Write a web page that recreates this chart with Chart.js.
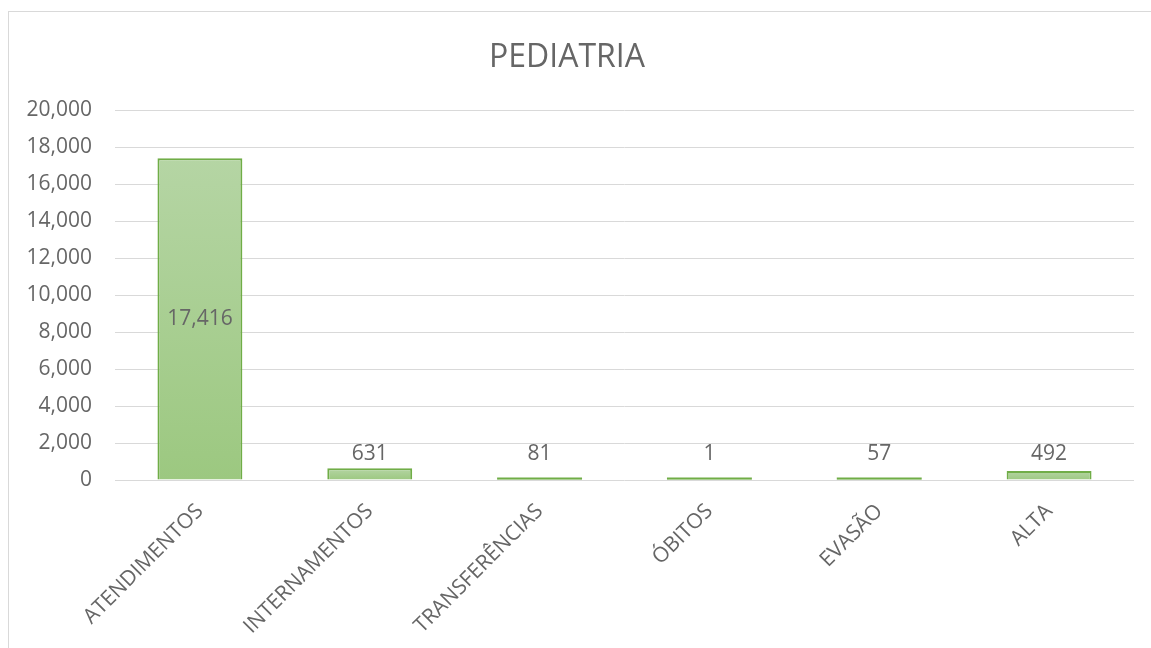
<!DOCTYPE html>
<html lang="pt">
  <head>
    <meta charset="UTF-8" />
    <title>Pediatria - Chart.js</title>
    <script src="https://cdn.jsdelivr.net/npm/chart.js"></script>
    <style>
      html, body {
        margin: 0;
        padding: 0;
        background: #fff;
        overflow: hidden;
        width: 1151px;
        height: 648px;
      }
      .frame {
        position: absolute;
        left: 8px;
        top: 11px;
        width: 1200px;
        height: 700px;
        border-left: 1px solid #d9d9d9;
        border-top: 1px solid #d9d9d9;
      }
      #pedChart {
        position: absolute;
        left: 0;
        top: 0;
      }
    </style>
  </head>
  <body>
    <div class="frame"></div>
    <canvas id="pedChart" width="1172" height="648"></canvas>
    <script>
      // dati
      const categorie = ['ATENDIMENTOS', 'INTERNAMENTOS', 'TRANSFERÊNCIAS', 'ÓBITOS', 'EVASÃO', 'ALTA'];
      const valori = [17416, 631, 81, 1, 57, 492];
      const titolo = 'PEDIATRIA';

      const grigio = '#666666';
      const fontBase = "'Open Sans', 'Noto Sans', sans-serif";

      // gradiente per ogni barra, chiaro in alto
      function fillBarra(ctx) {
        const chart = ctx.chart;
        if (!chart.chartArea || ctx.type !== 'data') return '#a9d18e';
        const y = chart.scales.y;
        const top = y.getPixelForValue(ctx.raw);
        const base = y.getPixelForValue(0);
        if (base - top < 1) return '#b5d5a4';
        const g = chart.ctx.createLinearGradient(0, top, 0, base);
        g.addColorStop(0, '#b5d5a4');
        g.addColorStop(1, '#9cc880');
        return g;
      }

      const etichette = {
        id: 'etichette',
        afterDatasetsDraw(chart) {
          const ctx = chart.ctx;
          const meta = chart.getDatasetMeta(0);
          ctx.save();
          // barre troppo basse: Chart.js non disegna il bordo, lo aggiungo
          ctx.strokeStyle = '#70ad47';
          ctx.lineWidth = 2;
          meta.data.forEach((el) => {
            if (el.base - el.y < 4) {
              ctx.beginPath();
              ctx.moveTo(el.x - el.width / 2, Math.min(el.y, el.base - 1));
              ctx.lineTo(el.x + el.width / 2, Math.min(el.y, el.base - 1));
              ctx.stroke();
            }
          });
          ctx.font = '21px ' + fontBase;
          ctx.fillStyle = grigio;
          ctx.textAlign = 'center';
          ctx.textBaseline = 'middle';
          meta.data.forEach((el, i) => {
            const v = valori[i];
            const txt = v.toLocaleString('en-US');
            let yy;
            if (v > 5000) {
              yy = (el.y + el.base) / 2;
            } else {
              yy = Math.min(el.y, el.base - 12) - 13;
            }
            ctx.fillText(txt, el.x, yy);
          });
          ctx.restore();
        },
      };

      const ctx = document.getElementById('pedChart').getContext('2d');
      new Chart(ctx, {
        type: 'bar',
        data: {
          labels: categorie,
          datasets: [
            {
              label: titolo,
              data: valori,
              backgroundColor: fillBarra,
              borderColor: '#70ad47',
              borderWidth: 2,
              categoryPercentage: 1,
              barPercentage: 0.5,
            },
          ],
        },
        options: {
          responsive: false,
          animation: false,
          devicePixelRatio: 1,
          layout: { padding: { left: 0, right: 38, top: 0, bottom: 0 } },
          plugins: {
            legend: { display: false },
            tooltip: { enabled: false },
            title: {
              display: true,
              text: titolo,
              color: grigio,
              font: { family: fontBase, size: 32, weight: 'normal', lineHeight: 1.2 },
              padding: { top: 39, bottom: 33 },
            },
          },
          scales: {
            x: {
              grid: { display: false },
              border: { display: false },
              ticks: {
                color: grigio,
                font: { family: fontBase, size: 21 },
                minRotation: 45,
                maxRotation: 45,
                padding: 11,
              },
              afterFit(scale) {
                scale.height = 168;
              },
            },
            y: {
              min: 0,
              max: 20000,
              border: { display: false },
              grid: { color: '#d9d9d9', lineWidth: 1, drawTicks: false },
              ticks: {
                stepSize: 2000,
                color: grigio,
                font: { family: fontBase, size: 21 },
                padding: 23,
                callback: (v) => v.toLocaleString('en-US'),
              },
              afterFit(scale) {
                scale.width = 115;
              },
            },
          },
        },
        plugins: [etichette],
      });
    </script>
  </body>
</html>
